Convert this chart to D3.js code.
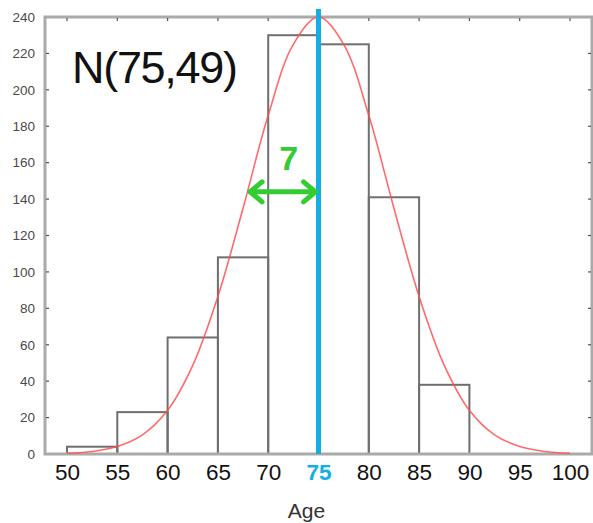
<!DOCTYPE html>
<html>
<head>
<meta charset="utf-8">
<script src="https://cdn.jsdelivr.net/npm/d3@7"></script>
<style>
  body { margin: 0; background: #fff; }
  svg { display: block; }
</style>
</head>
<body>
<div class="content"></div>
<script>
// histogram bins (age) and counts
var binStarts = [50, 55, 60, 65, 70, 75, 80, 85];
var binCounts = [4, 23, 64, 108, 230, 225, 141, 38];
var binWidth = 5;

// fitted normal curve
var curveAges = [50, 52.5, 55, 57.5, 60, 62.5, 65, 67.5, 70, 72.5, 75, 77.5, 80, 82.5, 85, 87.5, 90, 92.5, 95, 97.5, 100];
var curveValues = [0.4, 1.4, 4.1, 10.5, 24, 48.7, 86.5, 135, 186, 225, 240, 225, 186, 135, 86.5, 48.7, 24, 10.5, 4.1, 1.4, 0.4];

var xTicks = [50, 55, 60, 65, 70, 75, 80, 85, 90, 95, 100];
var yTicks = [0, 20, 40, 60, 80, 100, 120, 140, 160, 180, 200, 220, 240];

var meanAge = 75;
var sdAge = 7;
var titleText = 'N(75,49)';
var xLabel = 'Age';

var chart = {
    width: 593,
    height: 523,
    left: 45,
    right: 592,
    top: 17,
    bottom: 454,
    frame: '#aaaaaa',
    barStroke: '#6f6f6f',
    red: 'rgba(255, 80, 80, 0.85)',
    blue: '#12aee8',
    green: '#33cc33'
};

var svg = d3.select('.content').append('svg')
    .attr('width', chart.width)
    .attr('height', chart.height);

var x = d3.scaleLinear().domain([50, 100]).range([67, 570]);
var y = d3.scaleLinear().domain([0, 240]).range([chart.bottom, chart.top]);

// bars
svg.append('g').selectAll('rect')
    .data(binStarts)
    .enter().append('rect')
    .attr('x', function(d) { return x(d); })
    .attr('width', function(d) { return x(d + binWidth) - x(d); })
    .attr('y', function(d, i) { return y(binCounts[i]); })
    .attr('height', function(d, i) { return y(0) - y(binCounts[i]); })
    .style('fill', 'none')
    .style('stroke', chart.barStroke)
    .style('stroke-width', 2);

// frame
svg.append('rect')
    .attr('x', chart.left)
    .attr('y', chart.top)
    .attr('width', chart.right - chart.left)
    .attr('height', chart.bottom - chart.top)
    .style('fill', 'none')
    .style('stroke', chart.frame)
    .style('stroke-width', 3);

// inner ticks on all four sides
var tickG = svg.append('g').style('stroke', '#555').style('stroke-width', 1.2);
yTicks.forEach(function(t) {
    if (t === 0 || t === 240) return;
    tickG.append('line').attr('x1', chart.left + 1).attr('x2', chart.left + 4)
        .attr('y1', y(t)).attr('y2', y(t));
    tickG.append('line').attr('x1', chart.right - 1).attr('x2', chart.right - 4)
        .attr('y1', y(t)).attr('y2', y(t));
});
xTicks.forEach(function(t) {
    tickG.append('line').attr('x1', x(t)).attr('x2', x(t))
        .attr('y1', chart.top + 1).attr('y2', chart.top + 4);
});

// y axis labels
var yAxis = d3.axisLeft(y).tickValues(yTicks).tickSize(0).tickPadding(10);
var yg = svg.append('g')
    .attr('transform', 'translate(' + chart.left + ',0)')
    .call(yAxis);
yg.select('.domain').remove();
yg.selectAll('text')
    .style('font-family', 'Liberation Sans, Arial, sans-serif')
    .style('font-size', '13.5px')
    .style('fill', '#4a4a4a');

// x axis labels
var xAxis = d3.axisBottom(x).tickValues(xTicks).tickSize(0).tickPadding(10);
var xg = svg.append('g')
    .attr('transform', 'translate(0,' + chart.bottom + ')')
    .call(xAxis);
xg.select('.domain').remove();
xg.selectAll('text')
    .style('font-family', 'Liberation Sans, Arial, sans-serif')
    .style('font-size', '22.5px')
    .style('fill', function(d) { return d === meanAge ? chart.blue : '#111'; })
    .style('font-weight', function(d) { return d === meanAge ? 'bold' : 'normal'; });

// axis title
svg.append('text')
    .attr('x', x(73.8))
    .attr('y', 518)
    .attr('text-anchor', 'middle')
    .style('font-family', 'Liberation Sans, Arial, sans-serif')
    .style('font-size', '21px')
    .style('fill', '#333')
    .text(xLabel);

// normal curve
var line = d3.line()
    .x(function(d, i) { return x(curveAges[i]); })
    .y(function(d) { return y(d); })
    .curve(d3.curveCatmullRom);
svg.append('path')
    .attr('d', line(curveValues))
    .style('fill', 'none')
    .style('stroke', chart.red)
    .style('stroke-width', 1.6);

// mean line
svg.append('line')
    .attr('x1', x(meanAge)).attr('x2', x(meanAge))
    .attr('y1', 9).attr('y2', chart.bottom)
    .style('stroke', chart.blue)
    .style('stroke-width', 5);

// sd arrow
var ay = y(144);
var ax1 = x(meanAge - sdAge) + 2;
var ax2 = x(meanAge) - 3;
var arrow = svg.append('g')
    .style('stroke', chart.green)
    .style('stroke-width', 5)
    .style('stroke-linecap', 'round')
    .style('stroke-linejoin', 'round')
    .style('fill', 'none');
arrow.append('line').attr('x1', ax1).attr('x2', ax2).attr('y1', ay).attr('y2', ay);
arrow.append('path').attr('d', 'M' + (ax1 + 12) + ',' + (ay - 10) + 'L' + ax1 + ',' + ay + 'L' + (ax1 + 12) + ',' + (ay + 10));
arrow.append('path').attr('d', 'M' + (ax2 - 12) + ',' + (ay - 10) + 'L' + ax2 + ',' + ay + 'L' + (ax2 - 12) + ',' + (ay + 10));

svg.append('text')
    .attr('x', x(72.05))
    .attr('y', 170)
    .attr('text-anchor', 'middle')
    .style('font-family', 'Liberation Sans, Arial, sans-serif')
    .style('font-size', '34px')
    .style('font-weight', 'bold')
    .style('fill', chart.green)
    .text(sdAge);

// distribution label
svg.append('text')
    .attr('x', 72)
    .attr('y', 83)
    .style('font-family', 'Liberation Sans, Arial, sans-serif')
    .style('font-size', '45px')
    .attr('textLength', 166)
    .style('fill', '#111')
    .text(titleText);
</script>
</body>
</html>
